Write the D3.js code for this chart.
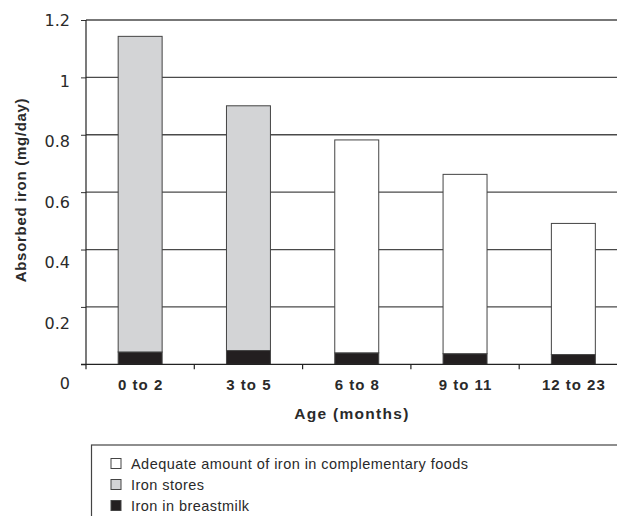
<!DOCTYPE html>
<html>
<head>
<meta charset="utf-8">
<script src="https://cdn.jsdelivr.net/npm/d3@7"></script>
<style>
  html, body { margin: 0; padding: 0; background: #fff; }
  svg { display: block; }
  text { font-family: "Liberation Sans", Arial, Helvetica, sans-serif; fill: #2a2a2a; }
</style>
</head>
<body>
<svg id="chart" width="617" height="516"></svg>
<script>
// ---- data ----
const categories = ["0 to 2", "3 to 5", "6 to 8", "9 to 11", "12 to 23"];
const breastmilk   = [0.043, 0.048, 0.040, 0.037, 0.034];
const ironStores   = [1.100, 0.853, 0, 0, 0];
const complementary = [0, 0, 0.742, 0.625, 0.457];
const yTicks = [0, 0.2, 0.4, 0.6, 0.8, 1, 1.2];
const yTickLabels = ["0", "0.2", "0.4", "0.6", "0.8", "1", "1.2"];
const seriesNames = ["Iron in breastmilk", "Iron stores", "Adequate amount of iron in complementary foods"];
const legendOrder = ["Adequate amount of iron in complementary foods", "Iron stores", "Iron in breastmilk"];
const yTitle = "Absorbed iron (mg/day)";
const xTitle = "Age (months)";

const colors = {
  "Iron in breastmilk": "#231f20",
  "Iron stores": "#d3d4d6",
  "Adequate amount of iron in complementary foods": "#ffffff"
};

const svg = d3.select("#chart");

const rows = categories.map((c, i) => ({
  cat: c,
  "Iron in breastmilk": breastmilk[i],
  "Iron stores": ironStores[i],
  "Adequate amount of iron in complementary foods": complementary[i]
}));

const x0 = 86, x1 = 627.5;
const yBottom = 364.3, yTop = 20;

const x = d3.scaleBand().domain(categories).range([x0, x1])
  .paddingInner(0.594).paddingOuter(0.297);
const y = d3.scaleLinear().domain([0, 1.2]).range([yBottom, yTop]);
// tick labels in the source are set on a slightly wider spacing than the gridlines
const yLab = d3.scaleLinear().domain([0, 1.2]).range([382.7, 20]);

// gridlines
svg.append("g")
  .selectAll("line")
  .data(yTicks.filter(d => d > 0))
  .join("line")
  .attr("x1", x0).attr("x2", 617)
  .attr("y1", d => y(d)).attr("y2", d => y(d))
  .attr("stroke", "#4a4a4a").attr("stroke-width", 1.3);

// bars
const stack = d3.stack().keys(seriesNames);
const stacked = stack(rows);
svg.append("g")
  .selectAll("g")
  .data(stacked)
  .join("g")
  .attr("fill", d => colors[d.key])
  .selectAll("rect")
  .data(d => d.filter(p => p[1] - p[0] > 0))
  .join("rect")
  .attr("x", d => x(d.data.cat))
  .attr("width", x.bandwidth())
  .attr("y", d => y(d[1]))
  .attr("height", d => y(d[0]) - y(d[1]))
  .attr("stroke", "#444")
  .attr("stroke-width", 1);

// y axis
const yAxis = d3.axisLeft(y).tickValues(yTicks)
  .tickFormat((d, i) => yTickLabels[i]).tickSize(5).tickPadding(11);
const gy = svg.append("g").attr("transform", `translate(${x0},0)`).call(yAxis);
gy.select(".domain").remove();
gy.selectAll(".tick line").attr("stroke", "#333");
gy.selectAll(".tick text")
  .attr("dy", d => (yLab(d) - y(d) + 5.8) + "px")
  .style("font-family", "'DejaVu Sans', sans-serif")
  .style("font-size", "16px")
  .attr("fill", "#333");
svg.append("line")
  .attr("x1", x0).attr("x2", x0)
  .attr("y1", yTop).attr("y2", yBottom + 5)
  .attr("stroke", "#222").attr("stroke-width", 1.2);

// x axis
const xb = d3.scaleLinear().domain([0, categories.length]).range([x0, x1]);
svg.append("line")
  .attr("x1", 81).attr("x2", 617)
  .attr("y1", yBottom).attr("y2", yBottom)
  .attr("stroke", "#222").attr("stroke-width", 1.2);
svg.append("g").selectAll("line")
  .data(d3.range(1, categories.length + 1))
  .join("line")
  .attr("x1", d => xb(d)).attr("x2", d => xb(d))
  .attr("y1", yBottom).attr("y2", yBottom + 5)
  .attr("stroke", "#222").attr("stroke-width", 1.2);
svg.append("g").selectAll("text")
  .data(categories)
  .join("text")
  .attr("x", d => x(d) + x.bandwidth() / 2 + 0.5)
  .attr("y", 389.5)
  .attr("text-anchor", "middle")
  .style("font-size", "15px")
  .style("font-weight", "bold")
  .style("letter-spacing", "1px")
  .text(d => d);

// axis titles
svg.append("text")
  .attr("x", 352).attr("y", 418.5)
  .attr("text-anchor", "middle")
  .style("font-size", "15.5px").style("font-weight", "bold")
  .style("letter-spacing", "1.3px")
  .text(xTitle);
svg.append("text")
  .attr("transform", "translate(26,190) rotate(-90)")
  .attr("text-anchor", "middle")
  .style("font-size", "15px").style("font-weight", "bold")
  .style("letter-spacing", "0.7px")
  .text(yTitle);

// legend
svg.append("rect")
  .attr("x", 91.5).attr("y", 445)
  .attr("width", 600).attr("height", 100)
  .attr("fill", "none").attr("stroke", "#444").attr("stroke-width", 1.2);
const lg = svg.append("g").selectAll("g")
  .data(legendOrder)
  .join("g")
  .attr("transform", (d, i) => `translate(111,${463.5 + i * 21})`);
lg.append("rect")
  .attr("x", 0).attr("y", -5).attr("width", 10).attr("height", 10)
  .attr("fill", d => colors[d]).attr("stroke", "#444").attr("stroke-width", 1);
lg.append("text")
  .attr("x", 20).attr("y", 5.5)
  .style("font-size", "14.5px")
  .style("letter-spacing", "0.45px")
  .text(d => d);
</script>
</body>
</html>
